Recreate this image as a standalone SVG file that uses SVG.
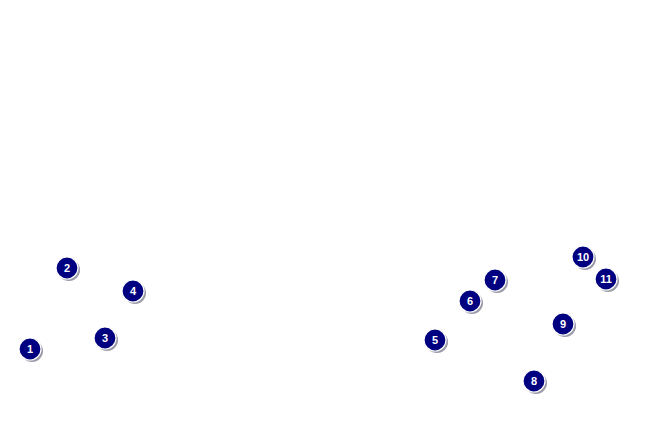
<svg xmlns="http://www.w3.org/2000/svg" width="650" height="425" viewBox="0 0 650 425">
<style>
.s{fill:#9a9aa8}
.c{fill:#000080;stroke:#ffffff;stroke-width:1.2}
.t{fill:#fff;font-family:"Liberation Sans",Arial,sans-serif;font-weight:bold;font-size:11px;text-anchor:middle}
</style>
<rect width="650" height="425" fill="#fff"/>
<g id="connectors"/>
<g id="n1"><circle class="s" cx="32" cy="351" r="11"/><circle class="c" cx="30" cy="349" r="11"/><text class="t" x="30" y="353">1</text></g>
<g id="n2"><circle class="s" cx="69" cy="270" r="11"/><circle class="c" cx="67" cy="268" r="11"/><text class="t" x="67" y="272">2</text></g>
<g id="n3"><circle class="s" cx="107" cy="340" r="11"/><circle class="c" cx="105" cy="338" r="11"/><text class="t" x="105" y="342">3</text></g>
<g id="n4"><circle class="s" cx="135" cy="293" r="11"/><circle class="c" cx="133" cy="291" r="11"/><text class="t" x="133" y="295">4</text></g>
<g id="n5"><circle class="s" cx="437" cy="342" r="11"/><circle class="c" cx="435" cy="340" r="11"/><text class="t" x="435" y="344">5</text></g>
<g id="n6"><circle class="s" cx="472" cy="303" r="11"/><circle class="c" cx="470" cy="301" r="11"/><text class="t" x="470" y="305">6</text></g>
<g id="n7"><circle class="s" cx="497" cy="282" r="11"/><circle class="c" cx="495" cy="280" r="11"/><text class="t" x="495" y="284">7</text></g>
<g id="n8"><circle class="s" cx="536" cy="383" r="11"/><circle class="c" cx="534" cy="381" r="11"/><text class="t" x="534" y="385">8</text></g>
<g id="n9"><circle class="s" cx="565" cy="326" r="11"/><circle class="c" cx="563" cy="324" r="11"/><text class="t" x="563" y="328">9</text></g>
<g id="n10"><circle class="s" cx="585" cy="259" r="11"/><circle class="c" cx="583" cy="257" r="11"/><text class="t" x="583" y="261">10</text></g>
<g id="n11"><circle class="s" cx="608" cy="281" r="11"/><circle class="c" cx="606" cy="279" r="11"/><text class="t" x="606" y="283">11</text></g>
</svg>
